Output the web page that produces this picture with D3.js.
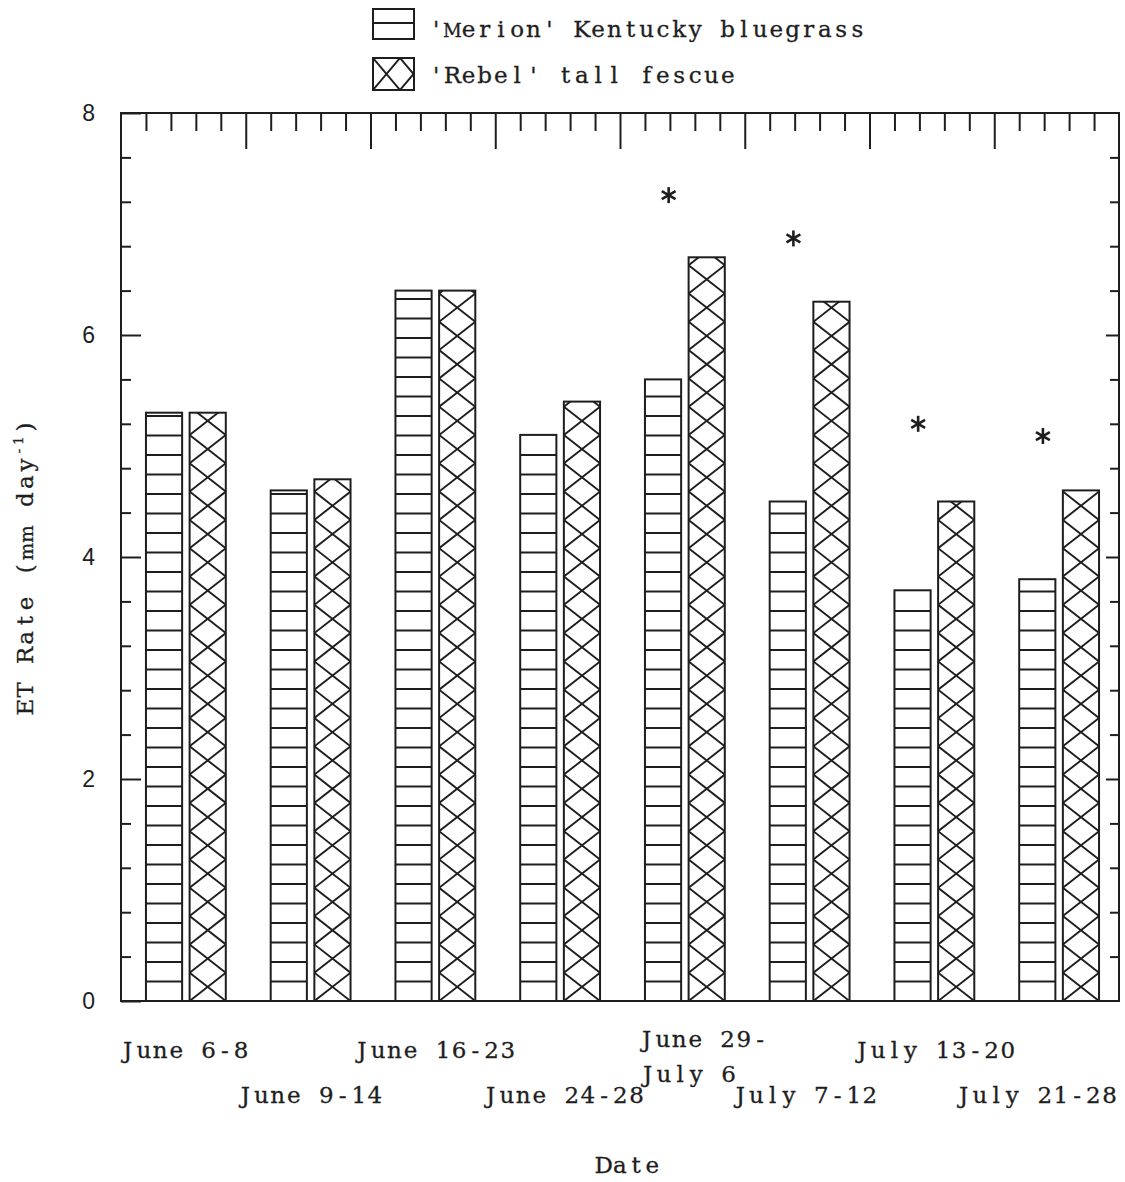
<!DOCTYPE html>
<html>
<head>
<meta charset="utf-8">
<script src="https://cdn.jsdelivr.net/npm/d3@7"></script>
<style>
  body { margin: 0; background: #fff; }
  text { fill: #1e1e1e; }
  text.mono { font-family: "DejaVu Serif", "Liberation Serif", serif; white-space: pre; }
</style>
</head>
<body>
<svg id="chart" width="1125" height="1182"></svg>
<script>
// ET rates (mm/day) for two turfgrasses over eight measurement periods
const periods = ["June 6-8", "June 9-14", "June 16-23", "June 24-28", "June 29-\nJuly 6", "July 7-12", "July 13-20", "July 21-28"];
const merion = [5.3, 4.6, 6.4, 5.1, 5.6, 4.5, 3.7, 3.8];
const rebel  = [5.3, 4.7, 6.4, 5.4, 6.7, 6.3, 4.5, 4.6];
// significant differences, marked with an asterisk at this height (mm/day)
const significance = [null, null, null, null, 7.26, 6.87, 5.2, 5.09];
const seriesNames = ["'Merion' Kentucky bluegrass", "'Rebel' tall fescue"];
const yMajorTicks = [0, 2, 4, 6, 8];
const labelRow = [0, 1, 0, 1, 0, 1, 0, 1];
const labelShift = [1, 2, 2, 6, 21, -2, 3, -20];

const ink = "#1e1e1e";
const svg = d3.select("#chart");
const L = 121, R = 1119, T = 113, B = 1001;

const y = d3.scaleLinear().domain([0, 8]).range([B, T]);
const xBand = d3.scaleBand().domain(d3.range(periods.length)).range([L, R]);
const xSub = d3.scaleLinear().domain([0, 5]).range([0, xBand.bandwidth()]);
const xUnits = d3.scaleLinear().domain([0, 40]).range([L, R]);

const defs = svg.append("defs");
const LINE_GAP = 19.5;   // spacing of horizontal hatch lines
const DIAMOND_H = 28.3;  // vertical period of crosshatch

// typewriter-style text: every character sits in a fixed-width cell
const CELL = 16.2, FONT = 23;
const WIDE = new Set(["m", "M", "w", "W"]);
function monoLine(parent, segments, x0, y0, anchor, cell = CELL, size = FONT) {
  const chars = [];
  segments.forEach(seg => [...seg.s].forEach(ch => chars.push({ ch, sup: !!seg.sup })));
  const widths = chars.map(c => c.sup ? cell * 0.6 : cell);
  const total = d3.sum(widths);
  let x = anchor === "middle" ? x0 - total / 2 : x0;
  const t = parent.append("text").attr("class", "mono").attr("text-anchor", "middle")
    .attr("font-size", size).attr("stroke", ink).attr("stroke-width", 0.3);
  chars.forEach((c, i) => {
    let fs = c.sup ? size * 0.6 : size;
    if (WIDE.has(c.ch)) fs *= 0.8;
    t.append("tspan")
      .attr("x", x + widths[i] / 2)
      .attr("y", c.sup ? y0 - 10 : y0)
      .attr("font-size", fs)
      .text(c.ch);
    x += widths[i];
  });
  t.node().__left = anchor === "middle" ? x0 - total / 2 : x0;
  return t;
}

function hatchHorizontal(g, x0, x1, yTop, yBase, gap) {
  for (let yy = yBase - gap; yy > yTop + 2; yy -= gap) {
    g.append("line").attr("x1", x0).attr("x2", x1).attr("y1", yy).attr("y2", yy)
      .attr("stroke", ink).attr("stroke-width", 2);
  }
}

function hatchCross(g, id, x0, x1, yTop, yBase, period, hPeriod) {
  defs.append("clipPath").attr("id", id)
    .append("rect").attr("x", x0).attr("y", yTop).attr("width", x1 - x0).attr("height", yBase - yTop);
  const cg = g.append("g").attr("clip-path", `url(#${id})`);
  const w = x1 - x0;
  const drop = period * w / hPeriod;
  const n = Math.ceil((yBase - yTop) / period) + Math.ceil(drop / period) + 2;
  for (let k = -Math.ceil(drop / period) - 1; k <= n; k++) {
    const yk = yBase - k * period;
    cg.append("line").attr("x1", x0).attr("y1", yk).attr("x2", x1).attr("y2", yk - drop)
      .attr("stroke", ink).attr("stroke-width", 1.9);
    cg.append("line").attr("x1", x0).attr("y1", yk).attr("x2", x1).attr("y2", yk + drop)
      .attr("stroke", ink).attr("stroke-width", 1.9);
  }
}

// bars
const bars = svg.append("g");
periods.forEach((p, i) => {
  const b = xBand(i);
  // Merion: horizontal lines
  const mx0 = b + xSub(1), mx1 = b + xSub(2.45), my = y(merion[i]);
  const gm = bars.append("g");
  hatchHorizontal(gm, mx0, mx1, my, y(0), LINE_GAP);
  gm.append("rect").attr("x", mx0).attr("y", my).attr("width", mx1 - mx0).attr("height", y(0) - my)
    .attr("fill", "none").attr("stroke", ink).attr("stroke-width", 2);
  // Rebel: crosshatch
  const rx0 = b + xSub(2.75), rx1 = b + xSub(4.2), ry = y(rebel[i]);
  const gr = bars.append("g");
  hatchCross(gr, "clipR" + i, rx0, rx1, ry, y(0), DIAMOND_H, rx1 - rx0);
  gr.append("rect").attr("x", rx0).attr("y", ry).attr("width", rx1 - rx0).attr("height", y(0) - ry)
    .attr("fill", "none").attr("stroke", ink).attr("stroke-width", 2);
});

// asterisks for significant differences
const stars = svg.append("g");
significance.forEach((v, i) => {
  if (v == null) return;
  const cx = xBand(i) + xSub(1.95), cy = y(v), r = 8;
  [90, 30, 150].forEach(a => {
    const t = a * Math.PI / 180;
    stars.append("line")
      .attr("x1", cx - r * Math.cos(t)).attr("y1", cy - r * Math.sin(t))
      .attr("x2", cx + r * Math.cos(t)).attr("y2", cy + r * Math.sin(t))
      .attr("stroke", ink).attr("stroke-width", 2.6);
  });
});

// axes: inward ticks on left, right and top
function styleAxis(g) {
  g.select(".domain").remove();
  g.selectAll(".tick line").attr("stroke", ink).attr("stroke-width", 2);
}
const yMinor = d3.range(0, 8.001, 0.4).map(v => +v.toFixed(1)).filter(v => !yMajorTicks.includes(v));

svg.append("g").attr("transform", `translate(${L},0)`)
  .call(d3.axisLeft(y).tickValues(yMinor).tickSize(-10).tickFormat(""))
  .call(styleAxis);
svg.append("g").attr("transform", `translate(${L},0)`)
  .call(d3.axisLeft(y).tickValues(yMajorTicks).tickSize(-20).tickPadding(26).tickFormat(d3.format("d")))
  .call(styleAxis)
  .call(g => g.selectAll(".tick text")
    .style("font-family", "'Liberation Sans', Arial, sans-serif")
    .attr("font-size", 23).attr("fill", ink));

svg.append("g").attr("transform", `translate(${R},0)`)
  .call(d3.axisRight(y).tickValues(yMinor).tickSize(-9).tickFormat(""))
  .call(styleAxis);
svg.append("g").attr("transform", `translate(${R},0)`)
  .call(d3.axisRight(y).tickValues(yMajorTicks.filter(v => v > 0 && v < 8)).tickSize(-13).tickFormat(""))
  .call(styleAxis);

const xMajor = [5, 10, 15, 20, 25, 30, 35];
svg.append("g").attr("transform", `translate(0,${T})`)
  .call(d3.axisTop(xUnits).tickValues(d3.range(1, 40).filter(v => !xMajor.includes(v))).tickSize(-18).tickFormat(""))
  .call(styleAxis);
svg.append("g").attr("transform", `translate(0,${T})`)
  .call(d3.axisTop(xUnits).tickValues(xMajor).tickSize(-36).tickFormat(""))
  .call(styleAxis);

// frame
svg.append("rect").attr("x", L).attr("y", T).attr("width", R - L).attr("height", B - T)
  .attr("fill", "none").attr("stroke", ink).attr("stroke-width", 2);

// category labels, staggered on two rows
const rowBase = [1058, 1103];
periods.forEach((p, i) => {
  const lines = p.split("\n");
  const cx = xBand(i) + xBand.bandwidth() / 2 + labelShift[i];
  if (lines.length === 1) {
    monoLine(svg, [{ s: p }], cx, rowBase[labelRow[i]], "middle");
  } else {
    const first = monoLine(svg, [{ s: lines[0] }], cx, 1047, "middle");
    const left = first.node().__left;
    monoLine(svg, [{ s: lines[1] }], left + 1, 1082, "start");
  }
});

// axis titles
monoLine(svg, [{ s: "Date" }], 628, 1173, "middle");

const yTitleG = svg.append("g").attr("transform", "translate(33,567) rotate(-90)");
monoLine(yTitleG, [{ s: "ET Rate (mm day" }, { s: "-1", sup: true }, { s: ")" }], 0, 0, "middle", 17.3);

// legend
const legend = svg.append("g");
const lx0 = 373, lx1 = 414;
legend.append("rect").attr("x", lx0).attr("y", 9).attr("width", lx1 - lx0).attr("height", 30)
  .attr("fill", "none").attr("stroke", ink).attr("stroke-width", 2);
legend.append("line").attr("x1", lx0).attr("x2", lx1).attr("y1", 23).attr("y2", 23)
  .attr("stroke", ink).attr("stroke-width", 2);
hatchCross(legend, "clipLegend", lx0, lx1, 58, 90, 32, 27);
legend.append("rect").attr("x", lx0).attr("y", 58).attr("width", lx1 - lx0).attr("height", 32)
  .attr("fill", "none").attr("stroke", ink).attr("stroke-width", 2);
monoLine(legend, [{ s: seriesNames[0] }], 428, 37, "start", CELL, 23);
monoLine(legend, [{ s: seriesNames[1] }], 428, 83, "start", CELL, 23);
</script>
</body>
</html>
